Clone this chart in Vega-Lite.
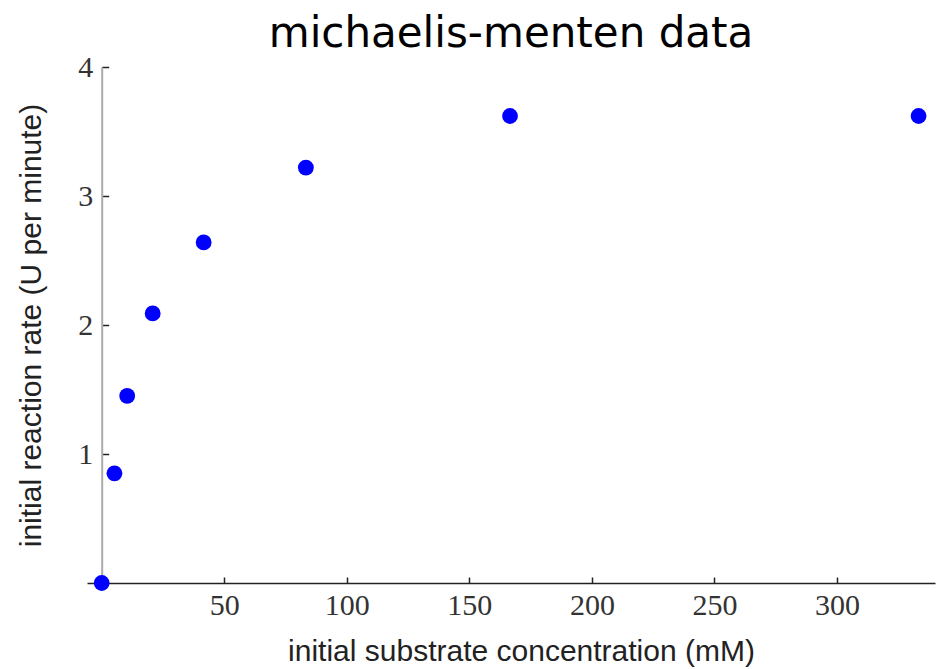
{
  "$schema": "https://vega.github.io/schema/vega-lite/v6.json",
  "width": 848,
  "height": 516,
  "autosize": "none",
  "padding": {"left": 87, "top": 67, "right": 9, "bottom": 86},
  "background": "white",
  "title": {
    "text": "michaelis-menten data",
    "font": "DejaVu Sans",
    "fontSize": 42,
    "fontWeight": "normal",
    "color": "black",
    "offset": -4,
    "anchor": "middle"
  },
  "config": {
    "view": {"stroke": null},
    "axis": {"grid": false}
  },
  "data": {
    "values": [
      {"substrate": 0, "rate": 0},
      {"substrate": 5.2, "rate": 0.85},
      {"substrate": 10.4, "rate": 1.45},
      {"substrate": 20.8, "rate": 2.09},
      {"substrate": 41.6, "rate": 2.64},
      {"substrate": 83.3, "rate": 3.22},
      {"substrate": 166.6, "rate": 3.62},
      {"substrate": 333.3, "rate": 3.62}
    ]
  },
  "mark": {"type": "point", "filled": true, "opacity": 1, "size": 250, "color": "#0000ff"},
  "encoding": {
    "x": {
      "field": "substrate",
      "type": "quantitative",
      "scale": {"domain": [-6, 340], "nice": false, "zero": false},
      "axis": {
        "title": "initial substrate concentration (mM)",
        "titleFont": "Liberation Sans",
        "titleFontSize": 30,
        "titleFontWeight": "normal",
        "titleColor": "#222",
        "titlePadding": 16,
        "titleX": 434,
        "values": [50, 100, 150, 200, 250, 300],
        "labelFont": "Liberation Serif",
        "labelFontSize": 30,
        "labelColor": "#333",
        "labelPadding": 13,
        "tickSize": -6,
        "tickColor": "#222",
        "tickWidth": 1.5,
        "domainColor": "#222",
        "domainWidth": 1.5
      }
    },
    "y": {
      "field": "rate",
      "type": "quantitative",
      "scale": {"domain": [0, 4], "nice": false},
      "axis": {
        "title": "initial reaction rate (U per minute)",
        "titleFont": "Liberation Sans",
        "titleFontSize": 30,
        "titleFontWeight": "normal",
        "titleColor": "#222",
        "titlePadding": 31,
        "offset": -14.7,
        "values": [1, 2, 3, 4],
        "labelFont": "Liberation Serif",
        "labelFontSize": 30,
        "labelColor": "#333",
        "labelPadding": 16,
        "tickSize": -7,
        "tickColor": "#222",
        "tickWidth": 1.5,
        "domainColor": "#aaaaaa",
        "domainWidth": 2
      }
    }
  }
}
